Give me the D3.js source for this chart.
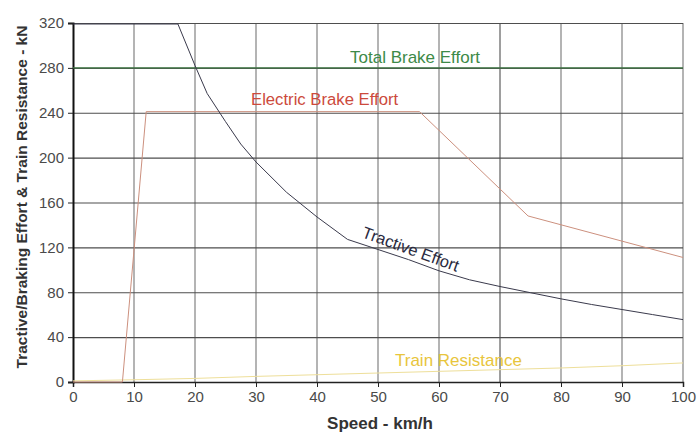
<!DOCTYPE html>
<html>
<head>
<meta charset="utf-8">
<script src="https://cdn.jsdelivr.net/npm/d3@7"></script>
<style>
  body { margin: 0; background: #fff; }
  svg text { font-family: "Liberation Sans", Arial, sans-serif; }
  .tick text { fill: #4a4a4a; font-size: 15px; }
</style>
</head>
<body>
<div id="chart"></div>
<script>
// Chart data
const xTicks = [0, 10, 20, 30, 40, 50, 60, 70, 80, 90, 100];
const yTicks = [0, 40, 80, 120, 160, 200, 240, 280, 320];

const tractiveSpeed = [0, 17.2, 20, 22, 25, 27.5, 30, 35, 40, 45, 50, 55, 60, 65, 70, 75, 80, 85, 90, 95, 100];
const tractiveForce = [320, 320, 283, 258, 233, 213, 197, 170, 148, 128, 119, 110, 100, 92, 86, 80.5, 75, 70, 65.5, 61, 56.5];

const electricSpeed = [0, 8.1, 12, 56.8, 74.6, 100];
const electricForce = [0, 0, 241, 241, 148, 111];

const totalBrakeSpeed = [0, 100];
const totalBrakeForce = [280, 280];

const resistSpeed = [0, 10, 20, 30, 40, 50, 60, 70, 80, 90, 100];
const resistForce = [1, 2, 3.2, 5, 6.5, 8, 9.5, 11, 12.5, 14.5, 17];

const W = 699, H = 432;
const margin = { top: 23, right: 16, bottom: 50, left: 73 };
const width = W - margin.left - margin.right;
const height = H - margin.top - margin.bottom;

const svg = d3.select('#chart')
    .append('svg')
    .attr('width', W)
    .attr('height', H);

const g = svg.append('g')
    .attr('transform', `translate(${margin.left},${margin.top})`);

const x = d3.scaleLinear().domain([0, 100]).range([0, width]);
const y = d3.scaleLinear().domain([0, 320]).range([height, 0]);

// Gridlines
g.append('g')
    .selectAll('line')
    .data(xTicks.filter(d => d > 0))
    .join('line')
    .attr('x1', d => x(d)).attr('x2', d => x(d))
    .attr('y1', 0).attr('y2', height)
    .attr('stroke', d => d === 70 ? '#6a6a6a' : '#8c8c8c')
    .attr('stroke-width', 1.3);

g.append('g')
    .selectAll('line')
    .data(yTicks.filter(d => d > 0))
    .join('line')
    .attr('x1', 0).attr('x2', width)
    .attr('y1', d => y(d) + 0.5).attr('y2', d => y(d) + 0.5)
    .attr('stroke', '#4e4e4e')
    .attr('stroke-width', 1.1);

// Axes
const xAxis = g.append('g')
    .attr('transform', `translate(0,${height})`)
    .call(d3.axisBottom(x).tickValues(xTicks).tickSize(5).tickPadding(4));
xAxis.select('.domain').attr('stroke', '#222').attr('stroke-width', 1.5);
xAxis.selectAll('.tick line').attr('stroke', '#222');

const yAxis = g.append('g')
    .call(d3.axisLeft(y).tickValues(yTicks).tickSize(5).tickPadding(4));
yAxis.select('.domain').attr('stroke', '#111').attr('stroke-width', 2);
yAxis.selectAll('.tick line').attr('stroke', '#222');

// Series
const line = d3.line().x(d => x(d[0])).y(d => y(d[1]));
const zip = (a, b) => a.map((v, i) => [v, b[i]]);

g.append('path')
    .datum(zip(resistSpeed, resistForce))
    .attr('d', line)
    .attr('fill', 'none')
    .attr('stroke', '#eedf9a')
    .attr('stroke-width', 1);

g.append('path')
    .datum(zip(totalBrakeSpeed, totalBrakeForce))
    .attr('d', line)
    .attr('fill', 'none')
    .attr('stroke', '#3f7a44')
    .attr('stroke-width', 1.2);

g.append('path')
    .datum(zip(electricSpeed, electricForce))
    .attr('d', line)
    .attr('fill', 'none')
    .attr('stroke', '#cc907e')
    .attr('stroke-width', 1);

g.append('path')
    .datum(zip(tractiveSpeed, tractiveForce))
    .attr('d', line)
    .attr('fill', 'none')
    .attr('stroke', '#3a3a4c')
    .attr('stroke-width', 1)
    .attr('transform', 'translate(0,1)');

// Series labels
svg.append('text')
    .attr('x', 350).attr('y', 63)
    .attr('font-size', 17)
    .attr('fill', '#3d8a48')
    .text('Total Brake Effort');

svg.append('text')
    .attr('x', 251).attr('y', 105)
    .attr('font-size', 16.7)
    .attr('fill', '#cc4a3c')
    .text('Electric Brake Effort');

svg.append('text')
    .attr('transform', 'translate(361,237) rotate(20)')
    .attr('font-size', 16.5)
    .attr('fill', '#2a2a40')
    .text('Tractive Effort');

svg.append('text')
    .attr('x', 395).attr('y', 366)
    .attr('font-size', 17)
    .attr('fill', '#e8c53c')
    .text('Train Resistance');

// Axis titles
svg.append('text')
    .attr('x', 380).attr('y', 429)
    .attr('text-anchor', 'middle')
    .attr('font-size', 17)
    .attr('font-weight', 'bold')
    .attr('fill', '#333')
    .text('Speed - km/h');

svg.append('text')
    .attr('transform', 'translate(27,197) rotate(-90)')
    .attr('text-anchor', 'middle')
    .attr('font-size', 15.5)
    .attr('font-weight', 'bold')
    .attr('fill', '#333')
    .text('Tractive/Braking Effort & Train Resistance - kN');
</script>
</body>
</html>
